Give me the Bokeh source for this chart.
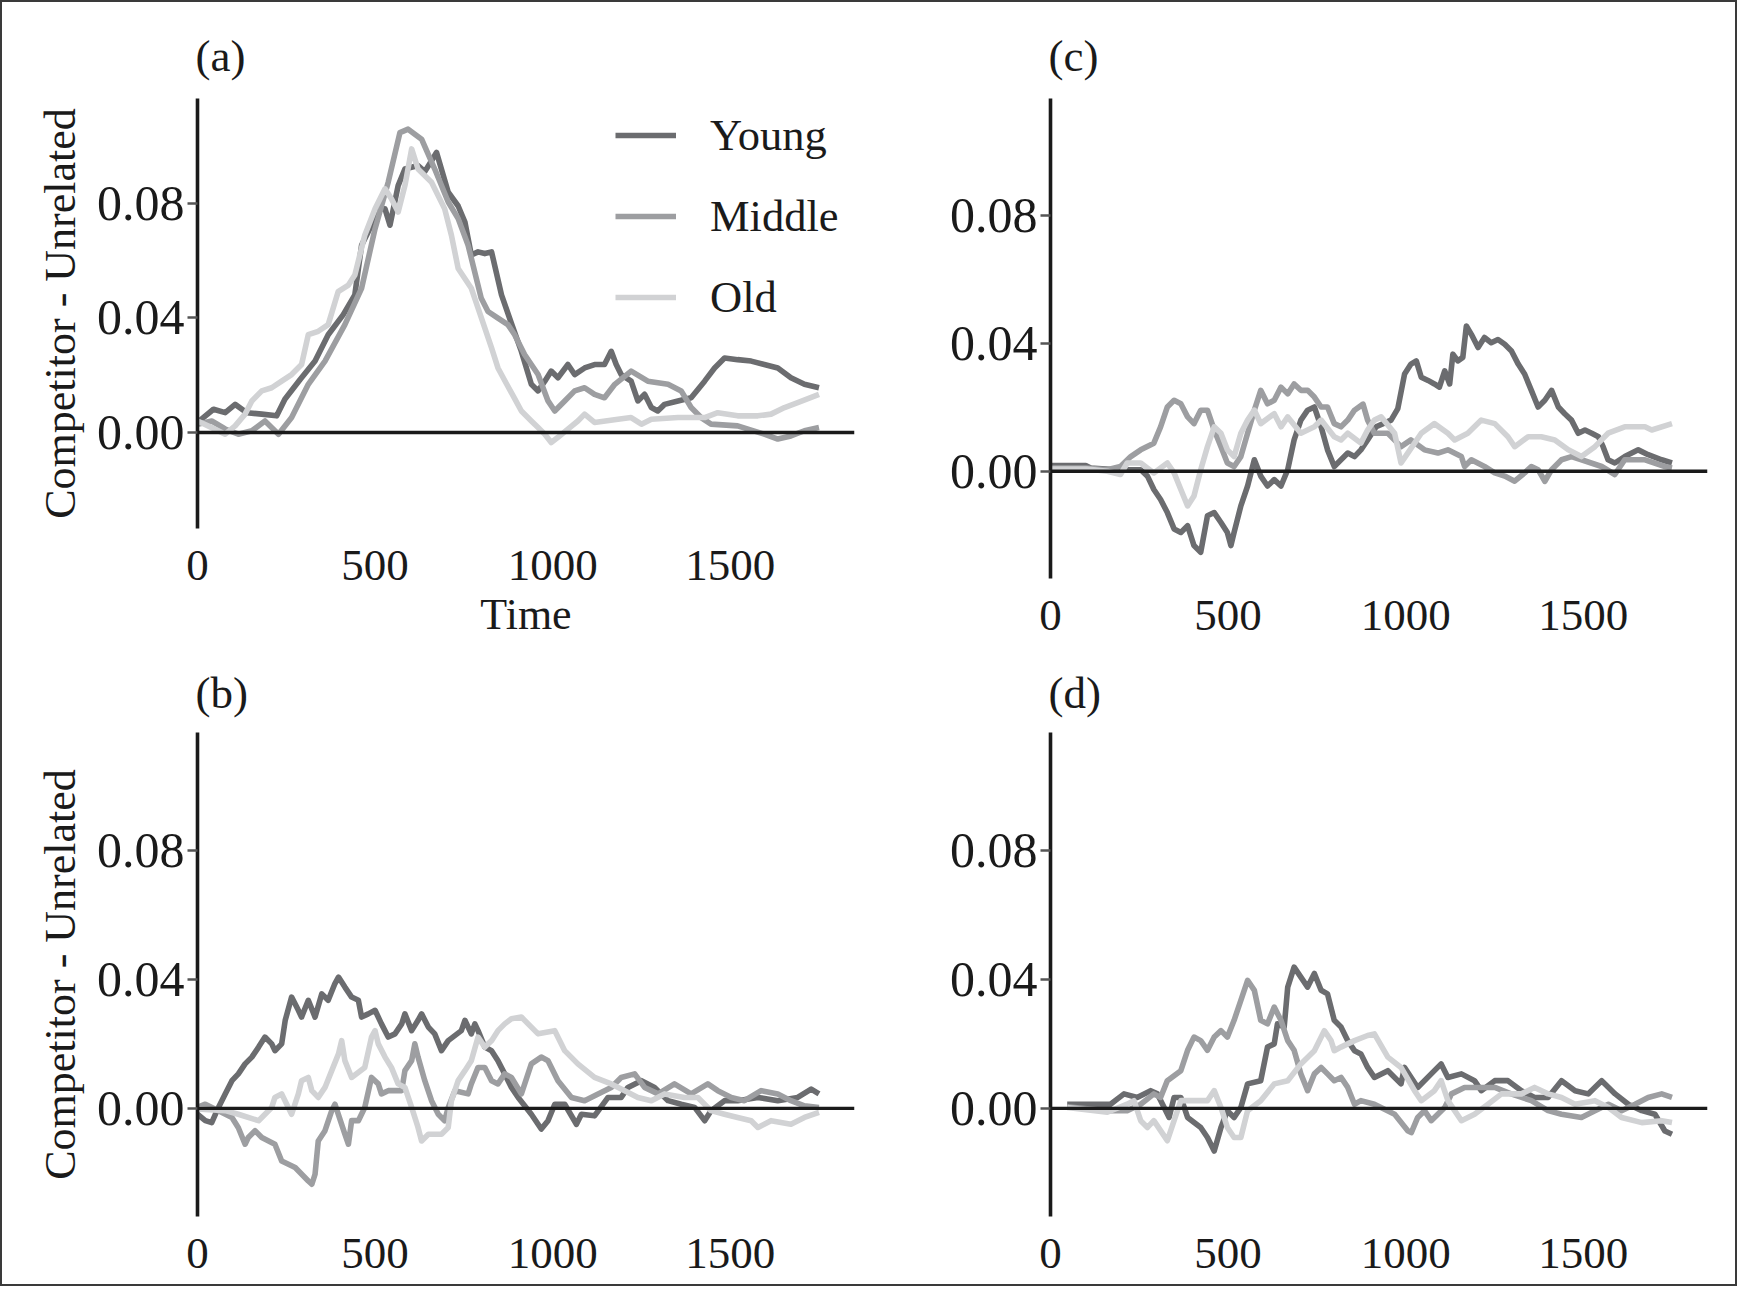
from bokeh.plotting import figure
from bokeh.models import Range1d, FixedTicker, Span, Legend, LegendItem, PrintfTickFormatter
from bokeh.layouts import row, column
from bokeh.embed import file_html
from bokeh.resources import INLINE

# ---------------- data ----------------
SERIES = ["Young", "Middle", "Old"]
COLORS = ["#6b6c6f", "#9d9ea1", "#d1d2d4"]
X_TICKS = [0, 500, 1000, 1500]
Y_TICKS = [0.0, 0.04, 0.08]
PANEL_LABELS = ["(a)", "(b)", "(c)", "(d)"]
X_TITLE = "Time"
Y_TITLE = "Competitor - Unrelated"

A_YOUNG = [(0, 0.0035), (45, 0.0081), (78, 0.0069), (106, 0.0098), (139, 0.0069), (181, 0.0064), (223, 0.0058),
           (246, 0.0116), (289, 0.0185), (331, 0.0249), (368, 0.0341), (410, 0.041), (443, 0.048), (462, 0.0653),
           (490, 0.0723), (504, 0.078), (528, 0.078), (542, 0.0723), (565, 0.0861), (584, 0.0919), (621, 0.0931),
           (640, 0.091), (659, 0.0948), (673, 0.0977), (706, 0.0838), (734, 0.079), (753, 0.0734), (771, 0.0619),
           (790, 0.063), (809, 0.0624), (828, 0.063), (856, 0.048), (884, 0.038), (912, 0.0283), (940, 0.0168),
           (959, 0.0145), (978, 0.0179), (996, 0.0214), (1015, 0.0191), (1043, 0.0237), (1062, 0.0202),
           (1090, 0.0225), (1118, 0.0237), (1146, 0.0237), (1165, 0.0283), (1179, 0.0237), (1193, 0.0202),
           (1221, 0.0179), (1240, 0.011), (1259, 0.0133), (1278, 0.0087), (1296, 0.0075), (1315, 0.0098),
           (1353, 0.011), (1390, 0.0121), (1428, 0.0179), (1456, 0.0225), (1484, 0.026), (1521, 0.0254),
           (1559, 0.0249), (1596, 0.0237), (1634, 0.0225), (1671, 0.0191), (1709, 0.0168), (1750, 0.0156)]
A_MIDDLE = [(0, 0.0029), (40, 0.004), (78, 0.0012), (115, -0.0006), (153, 0.0006), (190, 0.004), (228, -0.0006),
            (265, 0.0052), (312, 0.0168), (359, 0.0249), (415, 0.0376), (462, 0.0503), (500, 0.0711), (537, 0.0873),
            (570, 0.1046), (593, 0.1058), (631, 0.1023), (668, 0.0919), (706, 0.0804), (734, 0.0746), (762, 0.0653),
            (799, 0.0468), (818, 0.0422), (846, 0.0399), (874, 0.0376), (893, 0.0341), (921, 0.0272), (959, 0.0202),
            (987, 0.011), (1006, 0.0075), (1034, 0.011), (1062, 0.0145), (1090, 0.0156), (1118, 0.0133),
            (1146, 0.0121), (1175, 0.0168), (1221, 0.0214), (1268, 0.0179), (1325, 0.0168), (1362, 0.0145),
            (1390, 0.0087), (1418, 0.0052), (1446, 0.0029), (1521, 0.0023), (1596, -0.0006), (1634, -0.0023),
            (1671, -0.0012), (1709, 0.0006), (1750, 0.0017)]
A_OLD = [(0, 0.004), (40, 0.0017), (78, -0.0006), (106, 0.0023), (134, 0.0064), (153, 0.011), (181, 0.0145),
         (209, 0.0156), (237, 0.0179), (265, 0.0202), (293, 0.0237), (312, 0.0341), (340, 0.0353), (368, 0.0376),
         (396, 0.0491), (425, 0.0514), (443, 0.0549), (471, 0.0688), (500, 0.078), (528, 0.085), (546, 0.0815),
         (565, 0.0769), (584, 0.0861), (603, 0.0989), (621, 0.0919), (659, 0.0873), (696, 0.078), (715, 0.0688),
         (734, 0.0572), (771, 0.0503), (790, 0.0434), (828, 0.0295), (846, 0.0225), (870, 0.017), (890, 0.0125),
         (912, 0.0075), (940, 0.004), (959, 0.0017), (978, -0.0006), (996, -0.0035), (1015, -0.0017),
         (1043, 0.0012), (1071, 0.004), (1090, 0.0064), (1118, 0.0035), (1184, 0.0046), (1221, 0.0052),
         (1250, 0.0029), (1278, 0.0046), (1353, 0.0052), (1428, 0.0052), (1465, 0.0069), (1521, 0.0058),
         (1578, 0.0058), (1615, 0.0064), (1653, 0.0087), (1690, 0.0104), (1750, 0.0133)]

B_YOUNG = [(0, -0.0018), (22, -0.0038), (40, -0.0044), (59, 0.0003), (78, 0.0045), (97, 0.0086), (115, 0.0107),
           (134, 0.0138), (153, 0.0159), (172, 0.019), (190, 0.0221), (209, 0.02), (218, 0.0179), (237, 0.02),
           (247, 0.0273), (265, 0.0345), (284, 0.0304), (293, 0.0283), (312, 0.0335), (331, 0.0283), (350, 0.0355),
           (368, 0.0335), (387, 0.0387), (397, 0.0407), (415, 0.0376), (434, 0.0345), (453, 0.0335), (462, 0.0283),
           (481, 0.0293), (500, 0.0304), (518, 0.0262), (537, 0.0221), (556, 0.0231), (575, 0.0262), (584, 0.0293),
           (603, 0.0241), (621, 0.0273), (631, 0.0293), (650, 0.0252), (668, 0.0231), (687, 0.0179), (706, 0.021),
           (743, 0.0241), (753, 0.0273), (771, 0.0231), (781, 0.0262), (790, 0.0241), (809, 0.019), (828, 0.0179),
           (846, 0.0148), (865, 0.0107), (884, 0.0065), (903, 0.0034), (940, -0.0018), (968, -0.0064),
           (987, -0.0038), (1006, 0.0013), (1034, 0.0013), (1067, -0.0049), (1081, -0.0018), (1118, -0.0023),
           (1156, 0.0034), (1193, 0.0034), (1212, 0.0065), (1250, 0.0086), (1287, 0.0065), (1325, 0.0024),
           (1362, 0.0013), (1400, 0.0003), (1428, -0.0038), (1446, -0.0007), (1484, 0.0024), (1521, 0.0024),
           (1578, 0.0034), (1634, 0.0024), (1690, 0.0034), (1728, 0.006), (1750, 0.0045)]
B_MIDDLE = [(0, 0.0003), (22, 0.0013), (59, -0.0007), (97, -0.0028), (115, -0.006), (134, -0.0111), (143, -0.009),
            (162, -0.0069), (181, -0.009), (218, -0.0111), (237, -0.0163), (275, -0.0183), (312, -0.0225),
            (322, -0.0235), (331, -0.0204), (340, -0.0101), (359, -0.0069), (378, -0.0007), (387, 0.0013),
            (415, -0.008), (425, -0.0111), (434, -0.0038), (453, -0.0038), (471, 0.0003), (490, 0.0096),
            (509, 0.0076), (518, 0.0045), (537, 0.0055), (575, 0.0055), (584, 0.0117), (603, 0.0148), (612, 0.02),
            (621, 0.0159), (640, 0.0086), (659, 0.0024), (678, -0.0018), (696, -0.0038), (706, 0.0003),
            (725, 0.0055), (762, 0.0045), (771, 0.0076), (790, 0.0127), (809, 0.0127), (828, 0.0086),
            (846, 0.0076), (865, 0.0107), (884, 0.0096), (912, 0.0045), (940, 0.0138), (968, 0.0159),
            (987, 0.0148), (1015, 0.0086), (1053, 0.0034), (1090, 0.0024), (1128, 0.0045), (1165, 0.0065),
            (1193, 0.0096), (1231, 0.0107), (1259, 0.0065), (1297, 0.0045), (1343, 0.0076), (1390, 0.0045),
            (1437, 0.0076), (1465, 0.0055), (1503, 0.0034), (1540, 0.0024), (1587, 0.0055), (1634, 0.0045),
            (1671, 0.0024), (1709, 0.0008), (1750, 0.0003)]
B_OLD = [(0, -0.0002), (78, -0.0007), (115, -0.0018), (172, -0.0038), (209, 0.0003), (218, 0.0034), (237, 0.0045),
         (265, -0.0018), (284, 0.0045), (293, 0.0086), (312, 0.0096), (322, 0.0055), (340, 0.0034), (359, 0.0065),
         (378, 0.0117), (397, 0.0169), (406, 0.021), (415, 0.0148), (434, 0.0096), (471, 0.0127), (490, 0.0221),
         (500, 0.0241), (509, 0.02), (528, 0.0159), (546, 0.0127), (565, 0.0076), (584, 0.0065), (603, 0.0003),
         (621, -0.0059), (631, -0.0101), (650, -0.008), (687, -0.008), (706, -0.0059), (715, 0.0024),
         (734, 0.0086), (753, 0.0117), (771, 0.0148), (790, 0.0221), (809, 0.019), (828, 0.021), (846, 0.0241),
         (865, 0.0262), (884, 0.0278), (912, 0.0283), (959, 0.0231), (1006, 0.0241), (1034, 0.0179),
         (1071, 0.0138), (1118, 0.0096), (1165, 0.0076), (1203, 0.0055), (1240, 0.0034), (1278, 0.0024),
         (1315, 0.0045), (1371, 0.0034), (1409, 0.0034), (1446, -0.0007), (1484, -0.0018), (1521, -0.0028),
         (1559, -0.0038), (1578, -0.0059), (1615, -0.0038), (1671, -0.0049), (1709, -0.0028), (1750, -0.0012)]

C_YOUNG = [(0, 0.0018), (99, 0.0018), (113, 0.001), (188, 0.0005), (254, 0.0005), (273, -0.0015), (291, -0.0057),
           (310, -0.0088), (329, -0.0129), (348, -0.018), (367, -0.0191), (386, -0.017), (404, -0.0232),
           (423, -0.0253), (442, -0.0139), (461, -0.0129), (480, -0.016), (498, -0.0191), (508, -0.0232),
           (517, -0.0191), (536, -0.0108), (555, -0.0046), (574, 0.0036), (592, -0.0015), (611, -0.0046),
           (630, -0.0026), (649, -0.0046), (668, 0.0005), (686, 0.0098), (705, 0.016), (724, 0.0191),
           (743, 0.0201), (762, 0.0139), (780, 0.0067), (799, 0.0015), (818, 0.0036), (837, 0.0057), (856, 0.0046),
           (874, 0.0067), (893, 0.0098), (917, 0.0139), (959, 0.016), (978, 0.0196), (997, 0.0304), (1015, 0.0335),
           (1030, 0.0345), (1044, 0.0294), (1063, 0.0284), (1081, 0.0273), (1095, 0.0263), (1110, 0.0314),
           (1124, 0.0273), (1133, 0.0366), (1147, 0.0345), (1161, 0.0356), (1171, 0.0454), (1185, 0.0428),
           (1204, 0.0387), (1222, 0.0418), (1241, 0.0402), (1260, 0.0412), (1279, 0.0397), (1298, 0.0376),
           (1317, 0.0335), (1335, 0.0304), (1354, 0.0253), (1373, 0.0201), (1392, 0.0222), (1411, 0.0253),
           (1430, 0.0201), (1448, 0.018), (1467, 0.016), (1486, 0.0119), (1505, 0.0129), (1524, 0.0119),
           (1543, 0.0108), (1556, 0.0077), (1570, 0.0036), (1589, 0.0026), (1617, 0.0046), (1655, 0.0067),
           (1683, 0.0052), (1721, 0.0036), (1750, 0.0026)]
C_MIDDLE = [(0, 0.001), (99, 0.001), (160, 0.0005), (197, 0.0015), (226, 0.0046), (254, 0.0067), (291, 0.0088),
            (310, 0.0139), (329, 0.0201), (348, 0.0222), (367, 0.0211), (386, 0.017), (404, 0.0149), (423, 0.0191),
            (442, 0.0191), (461, 0.0129), (480, 0.0077), (498, 0.0026), (517, 0.0015), (536, 0.0046),
            (555, 0.0119), (574, 0.0191), (592, 0.0253), (611, 0.0211), (630, 0.0222), (649, 0.0263),
            (668, 0.0242), (686, 0.0273), (705, 0.0253), (724, 0.0253), (743, 0.0232), (762, 0.0201),
            (780, 0.0201), (799, 0.0149), (818, 0.0139), (837, 0.016), (856, 0.0191), (880, 0.021), (893, 0.016),
            (912, 0.0119), (950, 0.0119), (987, 0.0077), (1015, 0.0098), (1053, 0.0067), (1091, 0.0057),
            (1119, 0.0067), (1157, 0.0046), (1166, 0.0015), (1185, 0.0036), (1222, 0.0015), (1251, -0.0005),
            (1279, -0.0015), (1307, -0.0031), (1335, -0.0005), (1354, 0.0015), (1373, 0.0005), (1392, -0.0031),
            (1411, 0.0005), (1439, 0.0036), (1467, 0.0046), (1495, 0.0036), (1552, 0.0015), (1589, -0.001),
            (1617, 0.0036), (1674, 0.0036), (1730, 0.0015), (1750, 0.001)]
C_OLD = [(0, 0.0007), (103, 0.0007), (160, 0.0), (197, -0.001), (216, 0.0026), (254, 0.0026), (291, -0.0005),
         (329, 0.0026), (348, -0.0005), (367, -0.0057), (386, -0.0108), (404, -0.0077), (423, 0.0005),
         (442, 0.0077), (461, 0.0139), (480, 0.0119), (498, 0.0067), (517, 0.0046), (536, 0.0119), (555, 0.016),
         (574, 0.0191), (592, 0.0149), (630, 0.018), (649, 0.0139), (668, 0.017), (705, 0.0119), (743, 0.0139),
         (762, 0.016), (799, 0.0108), (818, 0.0098), (837, 0.0119), (874, 0.0088), (893, 0.0129), (912, 0.016),
         (931, 0.017), (969, 0.0119), (987, 0.0026), (1006, 0.0057), (1044, 0.0119), (1081, 0.0149),
         (1119, 0.0119), (1138, 0.0098), (1175, 0.0119), (1213, 0.016), (1251, 0.0149), (1288, 0.0108),
         (1307, 0.0077), (1345, 0.0108), (1382, 0.0108), (1420, 0.0098), (1458, 0.0067), (1495, 0.0046),
         (1533, 0.0077), (1570, 0.0119), (1617, 0.0139), (1674, 0.0139), (1693, 0.0129), (1750, 0.0149)]

D_YOUNG = [(47, 0.0013), (169, 0.0013), (207, 0.0045), (244, 0.0034), (282, 0.0055), (301, 0.0045), (320, 0.0003),
           (334, -0.0028), (348, 0.0034), (367, 0.0034), (386, -0.0028), (423, -0.0059), (442, -0.009),
           (461, -0.0132), (480, -0.0059), (498, -0.0007), (517, -0.0028), (536, 0.0003), (555, 0.0076),
           (592, 0.0086), (611, 0.019), (630, 0.02), (639, 0.0262), (658, 0.0252), (668, 0.0376), (686, 0.0438),
           (705, 0.0407), (724, 0.0376), (743, 0.0418), (762, 0.0366), (780, 0.0355), (799, 0.0273), (818, 0.0252),
           (837, 0.021), (856, 0.0179), (874, 0.0169), (893, 0.0127), (912, 0.0096), (950, 0.0117), (987, 0.0076),
           (997, 0.0127), (1034, 0.0065), (1072, 0.0107), (1100, 0.0138), (1119, 0.0096), (1157, 0.0107),
           (1194, 0.0086), (1213, 0.0055), (1251, 0.0086), (1288, 0.0086), (1326, 0.0055), (1363, 0.0034),
           (1401, 0.0034), (1439, 0.0086), (1477, 0.0055), (1514, 0.0045), (1552, 0.0086), (1590, 0.0045),
           (1627, 0.0013), (1665, -0.0007), (1702, -0.0018), (1730, -0.007), (1750, -0.008)]
D_MIDDLE = [(47, 0.0005), (160, -0.0007), (216, -0.0007), (254, 0.0013), (291, 0.0045), (310, 0.0034),
            (329, 0.0086), (367, 0.0117), (386, 0.018), (404, 0.0221), (423, 0.021), (442, 0.018), (461, 0.0221),
            (480, 0.0241), (498, 0.0221), (517, 0.0273), (536, 0.0335), (555, 0.0397), (574, 0.0366),
            (592, 0.0273), (611, 0.0262), (630, 0.0314), (649, 0.0273), (668, 0.021), (686, 0.018), (705, 0.0107),
            (724, 0.0055), (743, 0.0107), (762, 0.0127), (780, 0.0107), (799, 0.0086), (818, 0.0096),
            (837, 0.0065), (856, 0.0013), (874, 0.0024), (912, 0.0013), (969, -0.0018), (1006, -0.0069),
            (1016, -0.0075), (1034, -0.0028), (1053, -0.0007), (1072, -0.0038), (1110, 0.0003), (1129, 0.0045),
            (1166, 0.0065), (1204, 0.0065), (1251, 0.0065), (1297, 0.0045), (1354, 0.0024), (1401, -0.0007),
            (1439, -0.0018), (1495, -0.0028), (1533, -0.0007), (1571, 0.0013), (1608, -0.0007), (1646, 0.0013),
            (1683, 0.0034), (1721, 0.0045), (1750, 0.0034)]
D_OLD = [(47, 0.0003), (160, -0.0012), (216, 0.0013), (235, 0.0024), (254, -0.0038), (273, -0.0059),
         (291, -0.0038), (329, -0.01), (348, -0.0038), (367, 0.0024), (404, 0.0024), (442, 0.0024), (461, 0.0055),
         (480, 0.0003), (498, -0.0059), (517, -0.009), (536, -0.009), (555, -0.0007), (592, 0.0024), (630, 0.0076),
         (668, 0.0086), (705, 0.0138), (743, 0.0179), (771, 0.0241), (790, 0.021), (799, 0.0179), (818, 0.019),
         (856, 0.021), (893, 0.0226), (912, 0.0231), (950, 0.0159), (987, 0.0127), (1025, 0.0055), (1044, 0.0024),
         (1081, 0.0055), (1100, 0.0086), (1119, 0.0024), (1157, -0.0038), (1194, -0.0018), (1232, 0.0013),
         (1270, 0.0045), (1326, 0.0045), (1363, 0.0065), (1401, 0.0045), (1439, 0.0034), (1477, 0.0013),
         (1533, 0.0024), (1571, 0.0003), (1608, -0.0028), (1665, -0.0044), (1721, -0.0038), (1750, -0.0044)]

# ---------------- styling ----------------
FONT = "Liberation Serif"
TEXT_COLOR = "#1a1a1a"
X_RANGE = (0, 1850)
Y_RANGE = (-0.0335, 0.1165)


def make_panel(label, series, width, height, bl, br, bt, bb, title_standoff,
               ytitle=False, xtitle=False, legend=False):
    p = figure(width=width, height=height, x_range=Range1d(*X_RANGE), y_range=Range1d(*Y_RANGE),
               output_backend="svg", toolbar_location=None, title=label,
               min_border_left=bl, min_border_right=br, min_border_top=bt, min_border_bottom=bb)
    p.outline_line_color = None
    p.background_fill_color = None
    p.border_fill_color = None
    p.xgrid.visible = False
    p.ygrid.visible = False

    p.title.text_font = FONT
    p.title.text_font_size = "45px"
    p.title.text_font_style = "normal"
    p.title.text_color = TEXT_COLOR
    p.title.align = "left"
    p.title.offset = -2
    p.title.standoff = title_standoff

    ya = p.yaxis[0]
    ya.ticker = FixedTicker(ticks=Y_TICKS)
    ya.formatter = PrintfTickFormatter(format="%.2f")
    ya.axis_line_color = TEXT_COLOR
    ya.axis_line_width = 3.6
    ya.major_tick_line_color = "#555555"
    ya.major_tick_line_width = 2.6
    ya.major_tick_out = 10
    ya.major_tick_in = 0
    ya.minor_tick_line_color = None
    ya.major_label_standoff = 3
    ya.major_label_text_font = FONT
    ya.major_label_text_font_size = "50px"
    ya.major_label_text_color = TEXT_COLOR
    if ytitle:
        ya.axis_label = Y_TITLE
        ya.axis_label_text_font = FONT
        ya.axis_label_text_font_size = "44px"
        ya.axis_label_text_font_style = "normal"
        ya.axis_label_text_color = TEXT_COLOR
        ya.axis_label_standoff = 9

    xa = p.xaxis[0]
    xa.ticker = FixedTicker(ticks=X_TICKS)
    xa.axis_line_color = None
    xa.major_tick_line_color = None
    xa.minor_tick_line_color = None
    xa.major_tick_out = 0
    xa.major_tick_in = 0
    xa.major_label_standoff = 22
    xa.major_label_text_font = FONT
    xa.major_label_text_font_size = "45px"
    xa.major_label_text_color = TEXT_COLOR
    if xtitle:
        xa.axis_label = X_TITLE
        xa.axis_label_text_font = FONT
        xa.axis_label_text_font_size = "44px"
        xa.axis_label_text_font_style = "normal"
        xa.axis_label_text_color = TEXT_COLOR
        xa.axis_label_standoff = 7

    renderers = []
    for name, color, pts in zip(SERIES, COLORS, series):
        xs = [t for t, _ in pts]
        ys = [v for _, v in pts]
        r = p.line(xs, ys, line_color=color, line_width=5.6, line_join="round")
        renderers.append((name, r))

    p.add_layout(Span(location=0, dimension="width", line_color=TEXT_COLOR, line_width=3.4))

    if legend:
        lg = Legend(items=[LegendItem(label=n, renderers=[r]) for n, r in renderers],
                    location=(418, 201))
        lg.glyph_width = 61
        lg.glyph_height = 60
        lg.label_height = 60
        lg.spacing = 21
        lg.padding = 0
        lg.margin = 0
        lg.label_standoff = 34
        lg.background_fill_alpha = 0
        lg.border_line_color = None
        lg.label_text_font = FONT
        lg.label_text_font_size = "44.5px"
        lg.label_text_color = TEXT_COLOR
        p.add_layout(lg)
    return p


pa = make_panel(PANEL_LABELS[0], [A_YOUNG, A_MIDDLE, A_OLD], 870, 650, 197, 16, 98, 122, 35,
                ytitle=True, xtitle=True, legend=True)
pc = make_panel(PANEL_LABELS[2], [C_YOUNG, C_MIDDLE, C_OLD], 867, 650, 180, 30, 98, 72, 35)
pb = make_panel(PANEL_LABELS[1], [B_YOUNG, B_MIDDLE, B_OLD], 870, 636, 197, 16, 82, 70, 29, ytitle=True)
pd = make_panel(PANEL_LABELS[3], [D_YOUNG, D_MIDDLE, D_OLD], 867, 636, 180, 30, 82, 70, 29)

left_col = column(pa, pb)
right_col = column(pc, pd)
layout = row(left_col, right_col)
layout.styles = {"box-shadow": "inset 0 0 0 2px #3a3a3a", "background-color": "white"}

open("out.html", "w").write(file_html(layout, INLINE))
